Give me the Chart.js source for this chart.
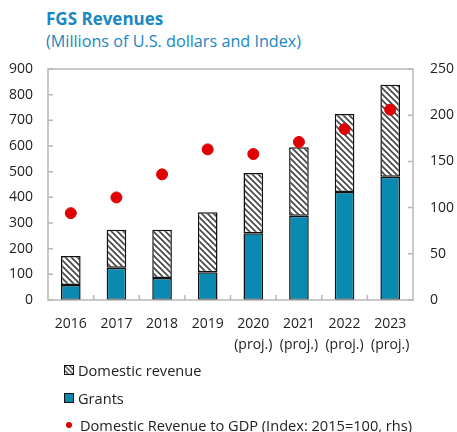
<!DOCTYPE html>
<html>
<head>
<meta charset="utf-8">
<script src="https://cdn.jsdelivr.net/npm/chart.js@4/dist/chart.umd.min.js"></script>
<style>
  body { margin: 0; background: #fff; font-family: "Open Sans", sans-serif; }
  #wrap { position: relative; width: 457px; height: 432px; }
  .title { position: absolute; left: 46px; top: 7px; font-size: 17px; font-weight: bold; color: #1a87c2; }
  .sub { position: absolute; left: 46px; top: 30px; font-size: 16.2px; color: #1a87c2; }
  canvas { position: absolute; left: 0; top: 0; }
  .leg { position: absolute; left: 64px; font-size: 14.6px; color: #222; display: flex; align-items: center; }
  .sw { width: 10px; height: 10px; border: 1.5px solid #111; box-sizing: border-box; margin-right: 4px; }
  .dot { width: 6px; height: 6px; border-radius: 50%; background: #e00000; margin: 0 8px 0 2px; }
</style>
</head>
<body>
<div id="wrap">
  <div class="title">FGS Revenues</div>
  <div class="sub">(Millions of U.S. dollars and Index)</div>
  <canvas id="chart" width="457" height="362"></canvas>
  <div class="leg" style="top:360px"><canvas id="hatchSw" class="sw" width="10" height="10" style="position:static"></canvas>Domestic revenue</div>
  <div class="leg" style="top:388px"><div class="sw" style="background:#0a8ab0"></div>Grants</div>
  <div class="leg" style="top:415px"><div class="dot"></div>Domestic Revenue to GDP (Index: 2015=100, rhs)</div>
</div>
<script>
const years = [['2016'], ['2017'], ['2018'], ['2019'], ['2020', '(proj.)'], ['2021', '(proj.)'], ['2022', '(proj.)'], ['2023', '(proj.)']];
const grants = [58, 126, 86, 108, 260, 328, 421, 480];
const domestic = [113, 148, 188, 234, 235, 267, 304, 359];
const revToGdp = [94, 111, 136, 163, 158, 171, 185, 206];

function hatch() {
  const c = document.createElement('canvas');
  c.width = 6; c.height = 6;
  const g = c.getContext('2d');
  g.fillStyle = '#fff';
  g.fillRect(0, 0, 6, 6);
  g.strokeStyle = '#444';
  g.lineWidth = 1.6;
  g.beginPath();
  g.moveTo(-1, -1); g.lineTo(7, 7);
  g.moveTo(-4, 2); g.lineTo(4, 10);
  g.moveTo(2, -4); g.lineTo(10, 4);
  g.stroke();
  return g.createPattern(c, 'repeat');
}
const pat = hatch();

// legend swatch
const sw = document.getElementById('hatchSw').getContext('2d');
sw.fillStyle = pat;
sw.fillRect(0, 0, 10, 10);

const frame = {
  id: 'frame',
  afterDraw(chart) {
    const { ctx, chartArea: a, scales } = chart;
    ctx.save();
    ctx.strokeStyle = '#b8b8b8';
    ctx.lineWidth = 1.5;
    ctx.strokeRect(a.left, a.top, a.right - a.left, a.bottom - a.top);
    ctx.beginPath();
    scales.y.ticks.forEach(t => {
      const y = scales.y.getPixelForValue(t.value);
      ctx.moveTo(a.left, y); ctx.lineTo(a.left + 5, y);
    });
    scales.y1.ticks.forEach(t => {
      const y = scales.y1.getPixelForValue(t.value);
      ctx.moveTo(a.right, y); ctx.lineTo(a.right - 5, y);
    });
    const n = years.length;
    for (let i = 1; i < n; i++) {
      const x = (scales.x.getPixelForValue(i - 1) + scales.x.getPixelForValue(i)) / 2;
      ctx.moveTo(x, a.bottom); ctx.lineTo(x, a.bottom - 5);
    }
    ctx.stroke();
    ctx.restore();
  }
};

new Chart(document.getElementById('chart'), {
  data: {
    labels: years,
    datasets: [
      { type: 'scatter', label: 'Domestic Revenue to GDP (Index: 2015=100, rhs)', data: revToGdp, yAxisID: 'y1',
        backgroundColor: '#e00000', borderColor: '#e00000', pointRadius: 5.5, pointHoverRadius: 5.5, order: 0 },
      { type: 'bar', label: 'Grants', data: grants, yAxisID: 'y', stack: 's',
        backgroundColor: '#0a8ab0', borderColor: '#111', borderWidth: 1.5, borderSkipped: false,
        barPercentage: 0.43, categoryPercentage: 1, order: 1 },
      { type: 'bar', label: 'Domestic revenue', data: domestic, yAxisID: 'y', stack: 's',
        backgroundColor: pat, borderColor: '#111', borderWidth: 1.5, borderSkipped: false,
        barPercentage: 0.43, categoryPercentage: 1, order: 1 }
    ]
  },
  options: {
    responsive: false,
    animation: false,
    layout: { padding: { top: 69, left: 0, right: 0, bottom: 0 } },
    plugins: { legend: { display: false }, tooltip: { enabled: false } },
    scales: {
      x: {
        type: 'category', offset: true, stacked: true,
        grid: { display: false, drawTicks: false },
        border: { display: false },
        ticks: { color: '#222', font: { family: 'Open Sans', size: 14 , lineHeight: 1.5 }, padding: 14, maxRotation: 0 },
        afterFit: s => { s.height = 62; }
      },
      y: {
        position: 'left', stacked: true, min: 0, max: 900,
        grid: { display: false, drawTicks: false },
        border: { display: false },
        ticks: { stepSize: 100, color: '#222', font: { family: 'Open Sans', size: 14 }, padding: 15 },
        afterFit: s => { s.width = 48; }
      },
      y1: {
        position: 'right', min: 0, max: 250,
        grid: { display: false, drawTicks: false },
        border: { display: false },
        ticks: { stepSize: 50, color: '#222', font: { family: 'Open Sans', size: 14 }, padding: 17 },
        afterFit: s => { s.width = 44; }
      }
    }
  },
  plugins: [frame]
});
</script>
</body>
</html>
